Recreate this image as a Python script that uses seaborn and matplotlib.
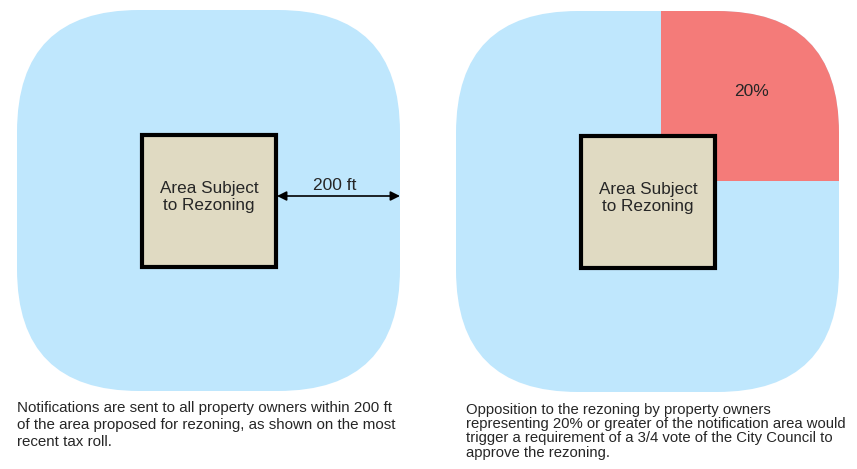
import matplotlib.pyplot as plt
import matplotlib.patches as mpatches
import seaborn as sns

# textos y valores del diagrama
area_label = "Area Subject\nto Rezoning"
buffer_label = "200 ft"
opposition_label = "20%"
captions = [
    "Notifications are sent to all property owners within 200 ft\n"
    "of the area proposed for rezoning, as shown on the most\n"
    "recent tax roll.",
    "Opposition to the rezoning by property owners\n"
    "representing 20% or greater of the notification area would\n"
    "trigger a requirement of a 3/4 vote of the City Council to\n"
    "approve the rezoning.",
]

azul = "#BFE7FD"
rojo = "#F47B79"
beige = "#E0DAC2"

sns.set_style("white")
plt.rcParams['font.family'] = ['Liberation Sans', 'DejaVu Sans']

fig = plt.figure(figsize=(8.57, 4.69), dpi=100)
ax = fig.add_axes([0, 0, 1, 1])
ax.set_xlim(0, 857)
ax.set_ylim(469, 0)
ax.axis("off")


def panel(x0, y0, cuadro_x, cuadro_y):
    zona = mpatches.FancyBboxPatch((x0, y0), 383, 381,
                                   boxstyle="round,pad=0,rounding_size=122",
                                   facecolor=azul, edgecolor="none")
    ax.add_patch(zona)
    cuadro = mpatches.Rectangle((cuadro_x, cuadro_y), 134, 132, facecolor=beige,
                                edgecolor="black", linewidth=3, zorder=5)
    ax.add_patch(cuadro)
    ax.text(cuadro_x + 67, cuadro_y + 62, area_label, ha="center", va="center",
            fontsize=12.3, linespacing=1.2, zorder=6)
    return zona


## PANEL 1 ##
panel(17, 10, 142, 135)
ax.annotate("", xy=(400, 196), xytext=(277, 196),
            arrowprops=dict(arrowstyle="<|-|>", color="black", lw=1.2,
                            mutation_scale=14, shrinkA=0, shrinkB=0))
ax.text(335, 186, buffer_label, ha="center", va="center", fontsize=12.5)

## PANEL 2 ##
zona2 = panel(456, 11, 581, 136)
cuarto = mpatches.Rectangle((661, 0), 200, 181, facecolor=rojo, edgecolor="none", zorder=2)
ax.add_patch(cuarto)
cuarto.set_clip_path(zona2)
ax.text(752, 92, opposition_label, ha="center", va="center", fontsize=12.5, zorder=6)

## TEXTOS ##
ax.text(17, 401, captions[0], ha="left", va="top", fontsize=10.9, linespacing=1.26)
ax.text(466, 403, captions[1], ha="left", va="top", fontsize=10.75, linespacing=1.02)

fig.savefig("out.png", dpi=100)
